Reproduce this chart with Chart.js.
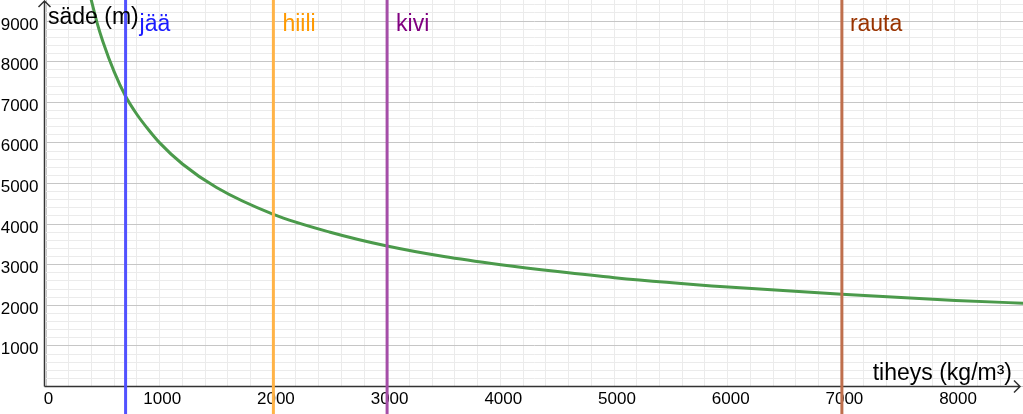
<!DOCTYPE html>
<html>
<head>
<meta charset="utf-8">
<script src="https://cdn.jsdelivr.net/npm/chart.js@4/dist/chart.umd.min.js"></script>
<style>
  html, body { margin: 0; padding: 0; background: #fff; }
  #wrap { width: 1023px; height: 414px; position: relative; }
</style>
</head>
<body>
<div id="wrap"><canvas id="chart"></canvas></div>
<script>
// curve: radius at several densities
const densities = [380, 400, 450, 500, 600, 700, 800, 900, 1000, 1200, 1500, 2000, 2500, 3000, 3500, 4000, 4500, 5000, 6000, 7000, 8000, 8700];
const radii = [9730, 9500, 8950, 8500, 7750, 7150, 6700, 6330, 6000, 5480, 4900, 4240, 3800, 3460, 3200, 3000, 2830, 2680, 2450, 2270, 2120, 2040];

// materials marked with vertical lines
const materials = ['jää', 'hiili', 'kivi', 'rauta'];
const materialDensity = [700, 2000, 3000, 7000];

// tick labels
const xTickLabels = [0, 1000, 2000, 3000, 4000, 5000, 6000, 7000, 8000];
const yTickLabels = [1000, 2000, 3000, 4000, 5000, 6000, 7000, 8000, 9000];
const xTitle = 'tiheys (kg/m³)';
const yTitle = 'säde (m)';

// view window (grid only covers the positive quadrant)
const xMax = 8593;
const yMax = 9520;
const yLow = -700;

// styles
const lineColors = ['#5252ff', '#ffb347', '#a54ea8', '#bf6f4d'];
const labelColors = ['#1a1aff', '#ff9900', '#800080', '#993300'];
const labelOffsets = [14, 9, 9, 8];
const font = '"Liberation Sans", Arial, Helvetica, sans-serif';

const datasets = [];
materials.forEach((m, i) => {
    datasets.push({
        label: m,
        data: [{ x: materialDensity[i], y: yLow }, { x: materialDensity[i], y: yMax }],
        borderColor: lineColors[i],
        borderWidth: 3,
        pointRadius: 0,
        showLine: true,
        clip: { left: 0, top: 0, right: 0, bottom: 30 }
    });
});
datasets.push({
    label: 'säde',
    data: densities.map((d, i) => ({ x: d, y: radii[i] })),
    borderColor: '#4b9a4b',
    borderWidth: 3,
    pointRadius: 0,
    showLine: true,
    cubicInterpolationMode: 'monotone'
});

// axes, arrows and tick labels drawn on the scales
const axesPlugin = {
    id: 'axes',
    beforeDatasetsDraw(chart) {
        const c = chart.ctx;
        const xs = chart.scales.x, ys = chart.scales.y;
        const ox = xs.getPixelForValue(0) - 1.5;
        const oy = ys.getPixelForValue(0);
        const right = chart.width - 3;
        c.save();
        c.strokeStyle = '#333';
        c.lineWidth = 1.5;
        c.beginPath();
        c.moveTo(ox, oy);
        c.lineTo(ox, 1);
        c.moveTo(ox, oy);
        c.lineTo(right, oy);
        // arrows
        c.moveTo(ox - 6, 7); c.lineTo(ox, 1); c.lineTo(ox + 6, 7);
        c.moveTo(right - 6, oy - 6); c.lineTo(right, oy); c.lineTo(right - 6, oy + 6);
        c.stroke();

        c.fillStyle = '#000';
        c.font = '17px ' + font;
        c.textAlign = 'center';
        c.textBaseline = 'alphabetic';
        xTickLabels.forEach(v => {
            c.fillText(String(v), xs.getPixelForValue(v) + 2.5, oy + 17.5);
        });
        c.textAlign = 'right';
        yTickLabels.forEach(v => {
            c.fillText(String(v), ox - 6, ys.getPixelForValue(v) + 8.5);
        });
        c.restore();
    },
    afterDatasetsDraw(chart) {
        const c = chart.ctx;
        const xs = chart.scales.x;
        c.save();
        c.font = '23px ' + font;
        c.textAlign = 'left';
        c.textBaseline = 'alphabetic';
        materials.forEach((m, i) => {
            c.fillStyle = labelColors[i];
            c.fillText(m, xs.getPixelForValue(materialDensity[i]) + labelOffsets[i], 31);
        });
        c.fillStyle = '#000';
        c.fillText(yTitle, 48, 24);
        c.textAlign = 'right';
        c.fillText(xTitle, chart.width - 11, 380);
        c.restore();
    }
};

const gridColor = ctx => (ctx.tick && ctx.tick.value % 1000 === 0) ? '#c6c6c6' : '#ebebeb';

new Chart(document.getElementById('chart'), {
    type: 'scatter',
    data: { datasets },
    options: {
        responsive: true,
        maintainAspectRatio: false,
        animation: false,
        layout: { padding: { left: 46, bottom: 27.5, top: 0, right: 0 } },
        plugins: {
            legend: { display: false },
            tooltip: { enabled: false }
        },
        scales: {
            x: {
                type: 'linear',
                min: 0,
                max: xMax,
                border: { display: false },
                grid: { color: gridColor, lineWidth: 1, drawTicks: false },
                ticks: { display: false, stepSize: 200, autoSkip: false, includeBounds: false }
            },
            y: {
                type: 'linear',
                min: 0,
                max: yMax,
                border: { display: false },
                grid: { color: gridColor, lineWidth: 1, drawTicks: false },
                ticks: { display: false, stepSize: 200, autoSkip: false, includeBounds: false }
            }
        }
    },
    plugins: [axesPlugin]
});
</script>
</body>
</html>
